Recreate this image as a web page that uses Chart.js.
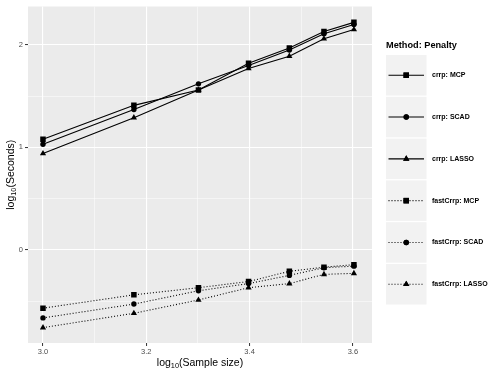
<!DOCTYPE html>
<html>
<head>
<meta charset="utf-8">
<title>crrp vs fastCrrp timing</title>
<script src="https://cdn.jsdelivr.net/npm/chart.js"></script>
<style>
    html, body { margin: 0; padding: 0; background: #ffffff; }
    #wrap { width: 500px; height: 375px; position: relative; }
</style>
</head>
<body>
<div id="wrap"><canvas id="timingChart"></canvas></div>
<script>
// log10 of sample size (1000 ... 4000)
const logSampleSize = [3.000, 3.176, 3.301, 3.398, 3.477, 3.544, 3.602];

// log10(seconds)
const crrpMCP = [1.08, 1.41, 1.56, 1.82, 1.97, 2.13, 2.22];
const crrpSCAD = [1.03, 1.37, 1.62, 1.80, 1.95, 2.11, 2.20];
const crrpLASSO = [0.94, 1.29, 1.56, 1.77, 1.89, 2.06, 2.15];
const fastCrrpMCP = [-0.57, -0.44, -0.37, -0.31, -0.21, -0.17, -0.145];
const fastCrrpSCAD = [-0.665, -0.53, -0.40, -0.33, -0.25, -0.175, -0.16];
const fastCrrpLASSO = [-0.76, -0.62, -0.49, -0.37, -0.33, -0.24, -0.23];

// axis breaks (major ones get labels, minor ones only a thin grid line)
const xMajorTicks = [3.0, 3.2, 3.4, 3.6];
const xMinorTicks = [3.1, 3.3, 3.5];
const yMajorTicks = [0, 1, 2];
const yMinorTicks = [-0.5, 0.5, 1.5];

const seriesLabels = ['crrp: MCP', 'crrp: SCAD', 'crrp: LASSO',
    'fastCrrp: MCP', 'fastCrrp: SCAD', 'fastCrrp: LASSO'];

const FONT = '"Liberation Sans", Arial, Helvetica, sans-serif';

function isIn(list, v) {
    return list.some(m => Math.abs(m - v) < 1e-6);
}

function makeDataset(label, values, shape, dotted) {
    const sizes = { rect: 3.9, circle: 2.7, triangle: 3.6 };
    return {
        label: label,
        data: values.map((y, i) => ({ x: logSampleSize[i], y: y })),
        borderColor: '#000000',
        backgroundColor: '#000000',
        borderWidth: 1.1,
        borderDash: dotted ? [1, 2] : [],
        pointStyle: shape,
        pointRadius: sizes[shape],
        pointBorderWidth: 0,
        pointBackgroundColor: '#000000',
        tension: 0
    };
}

// draws the axis titles (with subscript) and the ggplot-like legend
const decorPlugin = {
    id: 'decor',
    afterDraw(chart) {
        const ctx = chart.ctx;
        const area = chart.chartArea;

        function drawLogTitle(rest, size) {
            // returns total width, draws at current origin, left aligned, middle baseline
            ctx.font = size + 'px ' + FONT;
            const wLog = ctx.measureText('log').width;
            ctx.font = (size * 0.7) + 'px ' + FONT;
            const wSub = ctx.measureText('10').width;
            ctx.font = size + 'px ' + FONT;
            const wRest = ctx.measureText(rest).width;
            const total = wLog + wSub + wRest;
            let x = -total / 2;
            ctx.fillText('log', x, 0);
            x += wLog;
            ctx.font = (size * 0.7) + 'px ' + FONT;
            ctx.fillText('10', x, size * 0.3);
            x += wSub;
            ctx.font = size + 'px ' + FONT;
            ctx.fillText(rest, x, 0);
        }

        ctx.save();
        ctx.fillStyle = '#000000';
        ctx.textBaseline = 'middle';
        ctx.textAlign = 'left';

        // x axis title
        ctx.save();
        ctx.translate((area.left + area.right) / 2, 363);
        drawLogTitle('(Sample size)', 10.5);
        ctx.restore();

        // y axis title
        ctx.save();
        ctx.translate(11, (area.top + area.bottom) / 2);
        ctx.rotate(-Math.PI / 2);
        drawLogTitle('(Seconds)', 10.5);
        ctx.restore();

        // legend
        const legendX = 386;
        const keyTop = 55;
        const keyPitch = 41.8;
        const keySize = 40.5;
        ctx.font = 'bold 9.2px ' + FONT;
        ctx.fillText('Method: Penalty', legendX, 45.5);

        chart.data.datasets.forEach((ds, i) => {
            const top = keyTop + i * keyPitch;
            const cy = top + keySize / 2;
            ctx.fillStyle = '#f2f2f2';
            ctx.fillRect(legendX, top, keySize, keySize);

            ctx.strokeStyle = '#000000';
            ctx.lineWidth = 1.1;
            ctx.setLineDash(ds.borderDash);
            ctx.beginPath();
            ctx.moveTo(legendX + 2.5, cy);
            ctx.lineTo(legendX + keySize - 2.5, cy);
            ctx.stroke();
            ctx.setLineDash([]);

            ctx.fillStyle = '#000000';
            Chart.helpers.drawPoint(ctx, {
                pointStyle: ds.pointStyle,
                radius: ds.pointRadius,
                borderWidth: 0,
                rotation: 0
            }, legendX + keySize / 2, cy);
            ctx.fill();

            ctx.font = 'bold 7px ' + FONT;
            ctx.fillText(ds.label, legendX + keySize + 5.5, cy);
        });
        ctx.restore();
    }
};

class TimingChart {
    constructor(canvasId) {
        this.canvas = document.getElementById(canvasId);
        this.chart = null;
        this.init();
    }

    init() {
        const datasets = [
            makeDataset(seriesLabels[0], crrpMCP, 'rect', false),
            makeDataset(seriesLabels[1], crrpSCAD, 'circle', false),
            makeDataset(seriesLabels[2], crrpLASSO, 'triangle', false),
            makeDataset(seriesLabels[3], fastCrrpMCP, 'rect', true),
            makeDataset(seriesLabels[4], fastCrrpSCAD, 'circle', true),
            makeDataset(seriesLabels[5], fastCrrpLASSO, 'triangle', true)
        ];

        const gridFor = (major) => ({
            color: '#ffffff',
            lineWidth: (c) => isIn(major, c.tick.value) ? 1.1 : 0.5,
            drawTicks: true,
            tickLength: 3,
            tickWidth: 1,
            tickColor: (c) => isIn(major, c.tick.value) ? '#333333' : 'rgba(0,0,0,0)'
        });

        this.chart = new Chart(this.canvas, {
            type: 'line',
            data: { datasets: datasets },
            options: {
                responsive: true,
                maintainAspectRatio: false,
                devicePixelRatio: 1,
                animation: false,
                layout: { padding: { top: 4, right: 128, left: 0, bottom: 0 } },
                plugins: {
                    legend: { display: false },
                    tooltip: { enabled: false }
                },
                scales: {
                    x: {
                        type: 'linear',
                        min: 2.971,
                        max: 3.637,
                        border: { display: false },
                        grid: gridFor(xMajorTicks),
                        afterBuildTicks: (s) => {
                            s.ticks = xMajorTicks.concat(xMinorTicks)
                                .sort((a, b) => a - b).map(v => ({ value: v }));
                        },
                        afterFit: (s) => { s.height = 32; },
                        ticks: {
                            autoSkip: false,
                            maxRotation: 0,
                            padding: 1,
                            color: '#4d4d4d',
                            font: { family: FONT, size: 7.5 },
                            callback: (v) => isIn(xMajorTicks, v) ? Number(v).toFixed(1) : ''
                        }
                    },
                    y: {
                        type: 'linear',
                        min: -0.91,
                        max: 2.375,
                        border: { display: false },
                        grid: gridFor(yMajorTicks),
                        afterBuildTicks: (s) => {
                            s.ticks = yMajorTicks.concat(yMinorTicks)
                                .sort((a, b) => a - b).map(v => ({ value: v }));
                        },
                        afterFit: (s) => { s.width = 28; },
                        ticks: {
                            autoSkip: false,
                            padding: 2,
                            color: '#4d4d4d',
                            font: { family: FONT, size: 7.5 },
                            callback: (v) => isIn(yMajorTicks, v) ? String(Math.round(v)) : ''
                        }
                    }
                }
            },
            plugins: [
                {
                    // ggplot grey panel
                    id: 'panelBg',
                    beforeDraw(chart) {
                        const a = chart.chartArea;
                        chart.ctx.save();
                        chart.ctx.fillStyle = '#ebebeb';
                        chart.ctx.fillRect(a.left, a.top, a.right - a.left, a.bottom - a.top);
                        chart.ctx.restore();
                    }
                },
                decorPlugin
            ]
        });
    }
}

document.addEventListener('DOMContentLoaded', () => {
    new TimingChart('timingChart');
});
</script>
</body>
</html>
